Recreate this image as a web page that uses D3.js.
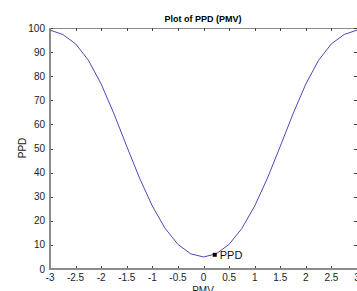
<!DOCTYPE html>
<html><head><meta charset="utf-8">
<script src="https://cdn.jsdelivr.net/npm/d3@7"></script>
<style>body{margin:0;background:#fff;}svg{display:block;}</style>
</head><body>
<script>
const pmv = [-3,-2.75,-2.5,-2.25,-2,-1.75,-1.5,-1.25,-1,-0.75,-0.5,-0.25,0,0.25,0.5,0.75,1,1.25,1.5,1.75,2,2.25,2.5,2.75,3];
const ppd = [99.12,97.31,93.43,86.65,76.76,64.41,50.90,37.72,26.12,16.85,10.22,6.30,5.0,6.30,10.22,16.85,26.12,37.72,50.90,64.41,76.76,86.65,93.43,97.31,99.12];
const xTicks = [-3,-2.5,-2,-1.5,-1,-0.5,0,0.5,1,1.5,2,2.5,3];
const yTicks = [0,10,20,30,40,50,60,70,80,90,100];
const markerPMV = 0.22, markerPPD = 5.9;
const titleText = "Plot of PPD (PMV)";

const W = 357, H = 291;
const svg = d3.select("body").append("svg").attr("width", W).attr("height", H);
const x = d3.scaleLinear().domain([-3,3]).range([50,357]);
const y = d3.scaleLinear().domain([0,100]).range([269,28]);
const axisColor = "#8c8c8c";
const font = "Liberation Sans, Arial, sans-serif";

// top & right box lines
svg.append("line").attr("x1",50).attr("x2",357).attr("y1",28.5).attr("y2",28.5).attr("stroke",axisColor).attr("stroke-width",1);
// ticks
xTicks.forEach(t=>{
  const px = Math.round(x(t))+0.5;
  svg.append("line").attr("x1",px).attr("x2",px).attr("y1",269).attr("y2",266).attr("stroke","#444");
  svg.append("line").attr("x1",px).attr("x2",px).attr("y1",28).attr("y2",31).attr("stroke","#444");
  svg.append("text").attr("x",x(t)).attr("y",281).attr("text-anchor","middle")
    .attr("font-family",font).attr("font-size",10).attr("fill","#222").text(t);
});
yTicks.forEach(t=>{
  const py = Math.round(y(t))+0.5;
  svg.append("line").attr("x1",50).attr("x2",53).attr("y1",py).attr("y2",py).attr("stroke","#444");
  svg.append("line").attr("x1",354).attr("x2",357).attr("y1",py).attr("y2",py).attr("stroke","#444");
  svg.append("text").attr("x",45).attr("y",y(t)+3.5).attr("text-anchor","end")
    .attr("font-family",font).attr("font-size",10).attr("fill","#222").text(t);
});
// left and bottom axis lines (thicker)
svg.append("line").attr("x1",50).attr("x2",50).attr("y1",28).attr("y2",270).attr("stroke",axisColor).attr("stroke-width",2);
svg.append("line").attr("x1",49).attr("x2",357).attr("y1",269).attr("y2",269).attr("stroke",axisColor).attr("stroke-width",2);

// curve
const line = d3.line().x((d,i)=>x(pmv[i])).y(d=>y(d));
svg.append("path").datum(ppd).attr("d",line).attr("fill","none").attr("stroke","#4a4ab4").attr("stroke-width",1);

// marker
svg.append("rect").attr("x",x(markerPMV)-2).attr("y",y(markerPPD)-2).attr("width",4).attr("height",4).attr("fill","#000");
svg.append("text").attr("x",x(markerPMV)+5).attr("y",y(markerPPD)+4).attr("font-family",font).attr("font-size",11).attr("fill","#111").text("PPD");

// title and labels
svg.append("text").attr("x",203).attr("y",22).attr("text-anchor","middle").attr("font-family",font)
  .attr("font-size",9).attr("font-weight","bold").attr("fill","#000").text(titleText);
svg.append("text").attr("x",203).attr("y",294).attr("text-anchor","middle").attr("font-family",font)
  .attr("font-size",10).attr("fill","#222").text("PMV");
svg.append("text").attr("transform","translate(26,148) rotate(-90)").attr("text-anchor","middle").attr("font-family",font)
  .attr("font-size",10).attr("fill","#222").text("PPD");
</script>
</body></html>
